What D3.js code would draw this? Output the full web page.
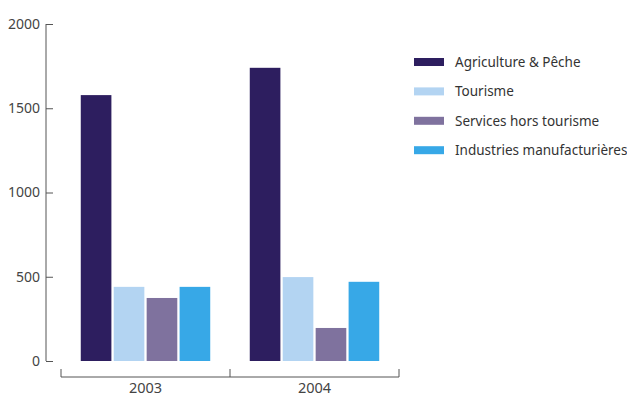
<!DOCTYPE html>
<html>
<head>
<meta charset="utf-8">
<script src="https://cdn.jsdelivr.net/npm/d3@7"></script>
<style>
  body { margin: 0; background: #fff; }
  svg { display: block; font-family: "Noto Sans", "Open Sans", sans-serif; }
</style>
</head>
<body>
<svg id="chart" width="627" height="396"></svg>
<script>
// Years on the x axis
const years = ["2003", "2004"];
// Sector series
const sectors = ["Agriculture & Pêche", "Tourisme", "Services hors tourisme", "Industries manufacturières"];
const sectorColors = ["#2d1e5f", "#b3d4f2", "#7f729e", "#37a8e7"];
// Values per sector, one entry per year
const agriculture = [1578, 1740];
const tourisme = [440, 498];
const services = [374, 196];
const industries = [440, 470];
// Y-axis ticks
const yTicks = [0, 500, 1000, 1500, 2000];

const seriesValues = [agriculture, tourisme, services, industries];

const svg = d3.select("#chart");
const axisColor = "#555";
const textColor = "#444";

const y = d3.scaleLinear().domain([0, 2000]).range([361, 24]);
const x0 = d3.scaleBand().domain(years).range([61, 399]).paddingInner(0).paddingOuter(0);
const x1 = d3.scaleBand().domain(sectors).range([0, x0.bandwidth()]).paddingInner(0.07).paddingOuter(0.6);

// Bars
const groups = svg.append("g").selectAll("g")
  .data(years)
  .join("g")
  .attr("transform", d => `translate(${x0(d)},0)`);

groups.selectAll("rect")
  .data((yr, i) => sectors.map((s, k) => ({ sector: s, value: seriesValues[k][i], color: sectorColors[k] })))
  .join("rect")
  .attr("x", d => x1(d.sector))
  .attr("width", x1.bandwidth())
  .attr("y", d => y(d.value))
  .attr("height", d => y(0) - y(d.value))
  .attr("fill", d => d.color);

// Y axis: inward ticks, labels on the left
const yAxis = svg.append("g")
  .attr("transform", "translate(46,0)")
  .call(d3.axisRight(y).tickValues(yTicks).tickSize(7).tickFormat(""));
yAxis.select(".domain").attr("stroke", axisColor).attr("d", `M0,${y(2000)}V${y(0)}`);
yAxis.selectAll(".tick line").attr("stroke", axisColor);

svg.append("g").selectAll("text")
  .data(yTicks)
  .join("text")
  .attr("x", 40)
  .attr("y", d => y(d))
  .attr("dy", "0.35em")
  .attr("text-anchor", "end")
  .attr("font-size", 14)
  .attr("fill", textColor)
  .text(d => d);

// X axis: bracket with upward ticks at band edges
const xAxis = svg.append("g")
  .attr("transform", "translate(0,377)")
  .call(d3.axisTop(x0).tickSize(0).tickFormat(""));
xAxis.select(".domain").attr("stroke", axisColor).attr("d", `M61,-8V0H399V-8`);
xAxis.append("line")
  .attr("x1", x0("2004")).attr("x2", x0("2004"))
  .attr("y1", -8).attr("y2", 0)
  .attr("stroke", axisColor);

svg.append("g").selectAll("text")
  .data(years)
  .join("text")
  .attr("x", d => x0(d) + x0.bandwidth() / 2)
  .attr("y", 393)
  .attr("text-anchor", "middle")
  .attr("font-size", 14.5)
  .attr("fill", textColor)
  .text(d => d);

// Legend
const legend = svg.append("g").selectAll("g")
  .data(sectors)
  .join("g")
  .attr("transform", (d, i) => `translate(414,${62 + i * 29.4})`);

legend.append("rect")
  .attr("x", 0).attr("y", -4)
  .attr("width", 30).attr("height", 8)
  .attr("fill", (d, i) => sectorColors[i]);

legend.append("text")
  .attr("x", 41)
  .attr("dy", "0.35em")
  .attr("font-size", 13.5)
  .attr("fill", "#333")
  .text(d => d);
</script>
</body>
</html>
